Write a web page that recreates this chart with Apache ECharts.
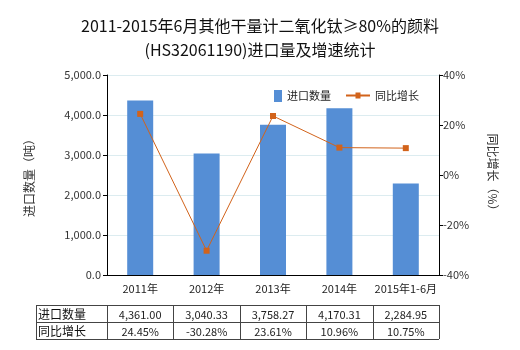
<!DOCTYPE html>
<html>
<head>
<meta charset="utf-8">
<script src="https://cdn.jsdelivr.net/npm/echarts@6/dist/echarts.min.js"></script>
<style>
html,body{margin:0;padding:0;background:#fff;}
#main{width:520px;height:350px;}
</style>
</head>
<body>
<div id="main"></div>
<script>
var categories = ['2011年', '2012年', '2013年', '2014年', '2015年1-6月'];
var importQty = [4361.00, 3040.33, 3758.27, 4170.31, 2284.95];
var growthPct = [24.45, -30.28, 23.61, 10.96, 10.75];
var leftTicks = [0, 1000, 2000, 3000, 4000, 5000];
var rightTicks = [-40, -20, 0, 20, 40];

var FONT = '"Noto Sans CJK SC", "Noto Sans", sans-serif';
var BAR_COLOR = '#558ed5';
var LINE_COLOR = '#d2631b';

function fmtThousands(v, digits) {
  var s = v.toFixed(digits);
  var parts = s.split('.');
  var neg = parts[0].charAt(0) === '-';
  var intPart = neg ? parts[0].slice(1) : parts[0];
  intPart = intPart.replace(/\B(?=(\d{3})+(?!\d))/g, ',');
  return (neg ? '-' : '') + intPart + (parts[1] ? '.' + parts[1] : '');
}

var chart = echarts.init(document.getElementById('main'), null, {renderer: 'canvas'});

var legendText = {fontFamily: FONT, fontSize: 11, color: '#222'};

var option = {
  animation: false,
  backgroundColor: '#fff',
  textStyle: {fontFamily: FONT},
  title: {
    text: '2011-2015年6月其他干量计二氧化钛≥80%的颜料\n(HS32061190)进口量及增速统计',
    left: 'center',
    top: 9,
    textStyle: {fontFamily: FONT, fontSize: 16, fontWeight: 'normal', color: '#111', lineHeight: 24}
  },
  legend: [
    {
      top: 85,
      left: 269,
      itemWidth: 8,
      itemHeight: 12,
      itemGap: 6,
      textStyle: legendText,
      data: [{name: '进口数量', icon: 'rect'}]
    },
    {
      top: 85,
      left: 341,
      itemWidth: 24,
      itemHeight: 12,
      textStyle: legendText,
      data: [{name: '同比增长', icon: 'path://M0,5 L24,5 L24,7 L0,7 Z M9.5,3 L14.5,3 L14.5,9 L9.5,9 Z'}]
    }
  ],
  grid: {left: 107, right: 81, top: 75, bottom: 75},
  xAxis: {
    type: 'category',
    data: categories,
    axisLine: {lineStyle: {color: '#000'}},
    axisTick: {alignWithLabel: true, length: 4, lineStyle: {color: '#000'}},
    axisLabel: {fontFamily: FONT, fontSize: 11, color: '#222', margin: 8, interval: 0}
  },
  yAxis: [
    {
      type: 'value',
      min: leftTicks[0],
      max: leftTicks[leftTicks.length - 1],
      interval: 1000,
      name: '进口数量（吨）',
      nameLocation: 'middle',
      nameRotate: 90,
      nameGap: 72,
      nameTextStyle: {fontFamily: FONT, fontSize: 12, color: '#333'},
      axisLine: {show: true, lineStyle: {color: '#000'}},
      axisTick: {show: true, length: 4, lineStyle: {color: '#000'}},
      axisLabel: {fontFamily: FONT, fontSize: 11, color: '#333', margin: 6,
        formatter: function (v) { return fmtThousands(v, 1); }},
      splitLine: {show: true, lineStyle: {color: '#dcecf0'}}
    },
    {
      type: 'value',
      min: rightTicks[0],
      max: rightTicks[rightTicks.length - 1],
      interval: 20,
      name: '同比增长（%）',
      nameLocation: 'middle',
      nameRotate: -90,
      nameGap: 48,
      nameTextStyle: {fontFamily: FONT, fontSize: 12, color: '#333'},
      axisLine: {show: true, lineStyle: {color: '#000'}},
      axisTick: {show: true, length: 4, lineStyle: {color: '#000'}},
      axisLabel: {fontFamily: FONT, fontSize: 11, color: '#333', margin: 4,
        formatter: function (v) { return v + '%'; }},
      splitLine: {show: false}
    }
  ],
  series: [
    {
      name: '进口数量',
      type: 'bar',
      data: importQty,
      barWidth: 26,
      itemStyle: {color: BAR_COLOR}
    },
    {
      name: '同比增长',
      type: 'line',
      yAxisIndex: 1,
      data: growthPct,
      symbol: 'rect',
      symbolSize: 6,
      lineStyle: {color: LINE_COLOR, width: 1},
      itemStyle: {color: LINE_COLOR}
    }
  ]
};

chart.setOption(option);

// Data table under the x axis, aligned with the category bands
function buildTable() {
  var centers = categories.map(function (c, i) {
    return chart.convertToPixel({xAxisIndex: 0}, i);
  });
  var band = centers.length > 1 ? centers[1] - centers[0] : 66;
  var x0 = 36;
  var firstCol = centers[0] - band / 2;
  var xEnd = centers[centers.length - 1] + band / 2;
  var rowTops = [305, 322, 339];
  var rows = [
    {label: '进口数量', values: importQty.map(function (v) { return fmtThousands(v, 2); })},
    {label: '同比增长', values: growthPct.map(function (v) { return v.toFixed(2) + '%'; })}
  ];
  var els = [];
  var ls = {stroke: '#444', lineWidth: 1};
  rowTops.forEach(function (y) {
    els.push({type: 'line', shape: {x1: x0, y1: y + 0.5, x2: xEnd, y2: y + 0.5}, style: ls});
  });
  var vx = [x0, firstCol];
  centers.forEach(function (c) { vx.push(c + band / 2); });
  vx.forEach(function (x) {
    var xx = Math.round(x) + 0.5;
    els.push({type: 'line', shape: {x1: xx, y1: rowTops[0], x2: xx, y2: rowTops[2]}, style: ls});
  });
  rows.forEach(function (r, ri) {
    var yMid = (rowTops[ri] + rowTops[ri + 1]) / 2 + 1;
    els.push({type: 'text', x: x0 + 2, y: yMid,
      style: {text: r.label, fill: '#111', font: '12px ' + FONT, textAlign: 'left', textVerticalAlign: 'middle'}});
    r.values.forEach(function (t, ci) {
      els.push({type: 'text', x: centers[ci], y: yMid,
        style: {text: t, fill: '#222', font: '11px ' + FONT, textAlign: 'center', textVerticalAlign: 'middle'}});
    });
  });
  chart.setOption({graphic: {elements: els}});
}
buildTable();
</script>
</body>
</html>
